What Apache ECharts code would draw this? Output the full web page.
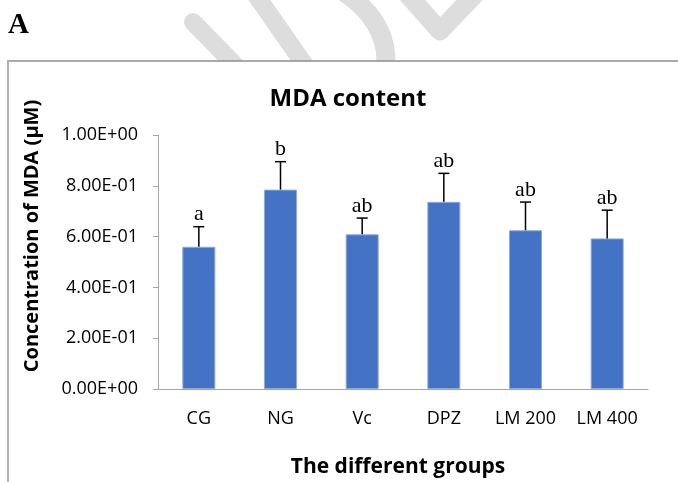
<!DOCTYPE html>
<html>
  <head>
    <meta charset="utf-8">
    <title>MDA content</title>
  </head>
  <body style="margin:0;">
    <div id="main" style="width: 678px;height:482px;"></div>
  </body>
  <script type="text/javascript" src="https://cdn.jsdelivr.net/npm/echarts@6/dist/echarts.min.js"></script>
  <script type="text/javascript">
      // data
      var categories = ['CG', 'NG', 'Vc', 'DPZ', 'LM 200', 'LM 400'];
      var means = [0.560, 0.785, 0.609, 0.737, 0.625, 0.593];
      var errors = [0.079, 0.110, 0.064, 0.112, 0.111, 0.111];
      var letters = ['a', 'b', 'ab', 'ab', 'ab', 'ab'];

      var myChart = echarts.init(document.getElementById('main'));

      // Excel style scientific labels: 8.00E-01
      function sci(v) {
          if (v === 0) return '0.00E+00';
          var s = v.toExponential(2).split('e');
          var ex = parseInt(s[1], 10);
          var sign = ex < 0 ? '-' : '+';
          ex = Math.abs(ex);
          return s[0] + 'E' + sign + (ex < 10 ? '0' : '') + ex;
      }

      var wm = '#dddddd';
      var frameY = 61;

      // thick watermark stroke, cut flat where the frame starts
      function strokePoly(x0, y0, x1, w) {
          var dx = x1 - x0, dy = frameY - y0;
          var len = Math.sqrt(dx * dx + dy * dy);
          dx /= len; dy /= len;
          var nx = -dy * w / 2, ny = dx * w / 2;
          var a = [x0 + nx, y0 + ny], b = [x0 - nx, y0 - ny];
          var ta = (frameY - a[1]) / dy, tb = (frameY - b[1]) / dy;
          return [a, [a[0] + ta * dx, frameY], [b[0] + tb * dx, frameY], b];
      }

      var option = {
          backgroundColor: '#fff',
          animation: false,
          title: {
              text: 'MDA content',
              left: 343,
              top: 82,
              textAlign: 'center',
              textStyle: {fontFamily: 'Open Sans', fontWeight: 'bold', fontSize: 24, color: '#000'}
          },
          grid: {left: 158, right: 30, top: 135, bottom: 93, containLabel: false},
          xAxis: {
              type: 'category',
              data: categories,
              axisLine: {lineStyle: {color: '#a6a6a6', width: 1}},
              axisTick: {show: false},
              axisLabel: {fontFamily: 'Open Sans', fontSize: 18, color: '#000', margin: 21}
          },
          yAxis: {
              type: 'value',
              min: 0,
              max: 1,
              interval: 0.2,
              splitLine: {show: false},
              axisLine: {show: true, lineStyle: {color: '#a6a6a6', width: 1}},
              axisTick: {show: true, length: 5, lineStyle: {color: '#a6a6a6'}},
              axisLabel: {
                  fontFamily: 'Open Sans', fontSize: 18, color: '#000', margin: 20,
                  formatter: function (v) { return sci(v); }
              }
          },
          graphic: [
              // watermark strokes in the page header
              {type: 'polygon', shape: {points: strokePoly(193, 22, 231, 18)}, style: {fill: wm}},
              {type: 'circle', shape: {cx: 193, cy: 22, r: 9}, style: {fill: wm}},
              {type: 'polygon', shape: {points: strokePoly(251, -12, 302, 18)}, style: {fill: wm}},
              {type: 'bezierCurve', shape: {x1: 338, y1: -12, cpx1: 386, cpy1: 18, x2: 386, y2: frameY},
               style: {stroke: wm, lineWidth: 19, fill: null, lineCap: 'butt'}},
              {type: 'polyline', shape: {points: [[402, -12], [440, 31], [481, -12]]},
               style: {stroke: wm, lineWidth: 19, lineJoin: 'round', fill: null}},
              // page frame
              {type: 'line', shape: {x1: 7, y1: frameY, x2: 678, y2: frameY},
               style: {stroke: '#8c8c8c', lineWidth: 1.5}},
              {type: 'line', shape: {x1: 8, y1: frameY, x2: 8, y2: 482},
               style: {stroke: '#b0b0b0', lineWidth: 2}},
              {type: 'text', x: 8, y: 26,
               style: {text: 'A', font: 'bold 29px "Liberation Serif"', fill: '#000', verticalAlign: 'middle'}},
              {type: 'text', x: 32, y: 236, rotation: Math.PI / 2,
               style: {text: 'Concentration of MDA (\u03bcM)', font: 'bold 20px "Open Sans"', fill: '#000',
                       align: 'center', verticalAlign: 'middle'}},
              {type: 'text', x: 398, y: 467,
               style: {text: 'The different groups', font: 'bold 21px "Open Sans"', fill: '#000',
                       align: 'center', verticalAlign: 'middle'}}
          ],
          series: [{
              name: 'MDA',
              type: 'bar',
              barWidth: 33,
              data: means,
              itemStyle: {color: '#4472c4', borderColor: '#8faadc', borderWidth: 1}
          }, {
              name: 'err',
              type: 'custom',
              z: 3,
              data: categories.map(function (c, i) { return [i, means[i], errors[i]]; }),
              encode: {x: 0, y: 1},
              renderItem: function (params, api) {
                  var i = api.value(0);
                  var m = api.value(1);
                  var e = api.value(2);
                  var p0 = api.coord([i, m]);
                  var p1 = api.coord([i, m + e]);
                  var ls = {stroke: '#000', lineWidth: 1.5};
                  return {
                      type: 'group',
                      children: [
                          {type: 'line', shape: {x1: p0[0], y1: p0[1], x2: p1[0], y2: p1[1]}, style: ls},
                          {type: 'line', shape: {x1: p1[0] - 5.5, y1: p1[1], x2: p1[0] + 5.5, y2: p1[1]}, style: ls},
                          {type: 'text', x: p1[0], y: p1[1] - 1,
                           style: {text: letters[params.dataIndex], font: '22px "Liberation Serif"', fill: '#000',
                                   align: 'center', verticalAlign: 'bottom'}}
                      ]
                  };
              }
          }]
      };

      myChart.setOption(option);
  </script>
</html>
